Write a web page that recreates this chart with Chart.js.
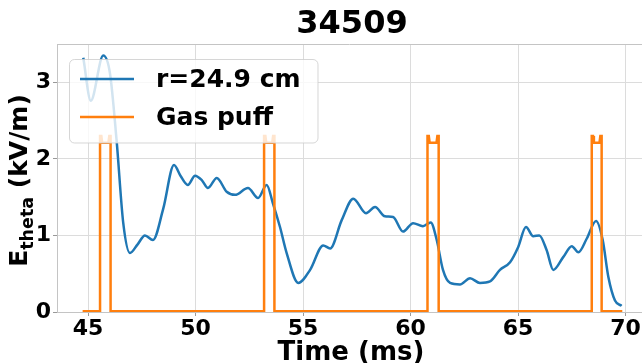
<!DOCTYPE html>
<html>
<head>
<meta charset="utf-8">
<script src="https://cdn.jsdelivr.net/npm/chart.js@4.4.1/dist/chart.umd.min.js"></script>
<style>
  html, body { margin: 0; padding: 0; background: #fff; }
  #wrap { width: 642px; height: 363px; }
</style>
</head>
<body>
<div id="wrap"><canvas id="chart" width="642" height="363"></canvas></div>
<script>
// --- Data ---
const TITLE = '34509';
const X_LABEL = 'Time (ms)';
const SERIES_LABELS = ['r=24.9 cm', 'Gas puff'];

// E_theta at r=24.9 cm
const timeMs = [44.78, 45.13, 45.71, 46.02, 46.33, 46.64, 46.95, 47.3, 47.65, 48.02, 48.5, 49.0, 49.3, 49.64,
    49.98, 50.3, 50.58, 50.99, 51.45, 51.84, 52.44, 52.91, 53.31, 53.6, 53.93, 54.24, 54.78, 55.33, 55.94,
    56.26, 56.8, 57.34, 57.93, 58.35, 58.81, 59.19, 59.65, 60.12, 60.58, 60.94, 61.22, 61.51, 61.84, 62.3,
    62.77, 63.23, 63.7, 64.16, 64.63, 65.01, 65.37, 65.71, 65.99, 66.33, 66.64, 67.11, 67.5, 67.81, 68.2,
    68.63, 68.94, 69.2, 69.51, 69.82];
const eTheta = [3.32, 2.76, 3.35, 3.12, 2.24, 1.16, 0.77, 0.88, 1.0, 0.94, 1.35, 1.92, 1.78, 1.66,
    1.78, 1.72, 1.62, 1.75, 1.57, 1.53, 1.62, 1.49, 1.66, 1.42, 1.11, 0.77, 0.38, 0.55, 0.87,
    0.83, 1.2, 1.48, 1.29, 1.37, 1.25, 1.24, 1.05, 1.16, 1.12, 1.17, 0.94, 0.55, 0.38, 0.36,
    0.44, 0.38, 0.40, 0.55, 0.65, 0.85, 1.11, 0.99, 1.0, 0.81, 0.55, 0.72, 0.86, 0.78, 0.96,
    1.19, 0.94, 0.46, 0.15, 0.08];

// gas puff trace (four pulses)
const puffTime = [44.75,
    45.56, 45.56, 45.62, 45.66, 45.95, 45.99, 46.05, 46.05,
    53.19, 53.19, 53.25, 53.29, 53.57, 53.61, 53.67, 53.67,
    60.79, 60.79, 60.85, 60.89, 61.21, 61.25, 61.31, 61.31,
    68.43, 68.43, 68.49, 68.53, 68.79, 68.83, 68.89, 68.89,
    69.85];
const puffValue = [0.01,
    0.01, 2.30, 2.30, 2.21, 2.21, 2.30, 2.30, 0.01,
    0.01, 2.30, 2.30, 2.21, 2.21, 2.30, 2.30, 0.01,
    0.01, 2.30, 2.30, 2.21, 2.21, 2.30, 2.30, 0.01,
    0.01, 2.30, 2.30, 2.21, 2.21, 2.30, 2.30, 0.01,
    0.01];

const xTicks = [45, 50, 55, 60, 65, 70];
const yTicks = [0, 1, 2, 3];

// --- Style ---
const C_BLUE = '#1f77b4';
const C_ORANGE = '#ff7f0e';
const FONT = "'DejaVu Sans', sans-serif";
const GRID = '#dcdcdc';
const SPINE = '#c4c4c4';

function pts(xs, ys) { return xs.map((x, i) => ({ x, y: ys[i] })); }

// decor draws title, axis labels (with the theta subscript), top spine and the legend box
const decor = {
    id: 'decor',
    beforeDatasetsDraw(chart) {
        const { ctx, chartArea: a } = chart;
        ctx.save();
        ctx.strokeStyle = SPINE;
        ctx.lineWidth = 1;
        ctx.beginPath();
        ctx.moveTo(a.left, a.top + 0.5);
        ctx.lineTo(a.right, a.top + 0.5);
        ctx.stroke();
        ctx.restore();
    },
    afterDraw(chart) {
        const { ctx } = chart;
        ctx.save();
        ctx.fillStyle = '#000';
        ctx.textAlign = 'center';
        ctx.textBaseline = 'alphabetic';
        ctx.font = `bold 32px ${FONT}`;
        ctx.fillText(TITLE, 352, 33);
        ctx.font = `bold 26px ${FONT}`;
        ctx.fillText(X_LABEL, 351, 360);

        // y label: E_theta (kV/m), rotated
        ctx.translate(27, 180.5);
        ctx.rotate(-Math.PI / 2);
        ctx.textAlign = 'left';
        const big = `bold 25px ${FONT}`, small = `bold 17.5px ${FONT}`;
        ctx.font = big; const wE = ctx.measureText('E').width;
        ctx.font = small; const wSub = ctx.measureText('theta').width;
        ctx.font = big; const wRest = ctx.measureText(' (kV/m)').width;
        let x0 = -(wE + wSub + wRest) / 2;
        ctx.font = big; ctx.fillText('E', x0, 0); x0 += wE;
        ctx.font = small; ctx.fillText('theta', x0, 6); x0 += wSub;
        ctx.font = big; ctx.fillText(' (kV/m)', x0, 0);
        ctx.restore();

        // legend
        ctx.save();
        const lx = 69.5, ly = 59.5, lw = 248.5, lh = 83.5, r = 5;
        ctx.beginPath();
        ctx.roundRect(lx, ly, lw, lh, r);
        ctx.fillStyle = 'rgba(255,255,255,0.8)';
        ctx.fill();
        ctx.strokeStyle = 'rgba(204,204,204,0.8)';
        ctx.lineWidth = 1;
        ctx.stroke();
        const rows = [{ y: 79, c: C_BLUE }, { y: 117, c: C_ORANGE }];
        ctx.font = `bold 25px ${FONT}`;
        ctx.fillStyle = '#000';
        ctx.textBaseline = 'middle';
        rows.forEach((row, i) => {
            ctx.strokeStyle = row.c;
            ctx.lineWidth = 2.5;
            ctx.beginPath();
            ctx.moveTo(80, row.y);
            ctx.lineTo(134, row.y);
            ctx.stroke();
            ctx.fillText(SERIES_LABELS[i], 156, row.y + 1);
        });
        ctx.restore();
    },
};

new Chart(document.getElementById('chart'), {
    type: 'line',
    data: {
        datasets: [{
            label: SERIES_LABELS[0],
            data: pts(timeMs, eTheta),
            borderColor: C_BLUE,
            borderWidth: 2.5,
            pointRadius: 0,
            cubicInterpolationMode: 'monotone',
            order: 1,
        }, {
            label: SERIES_LABELS[1],
            data: pts(puffTime, puffValue),
            borderColor: C_ORANGE,
            borderWidth: 2.5,
            pointRadius: 0,
            tension: 0,
            order: 0,
        }],
    },
    options: {
        responsive: false,
        animation: false,
        events: [],
        layout: { padding: { top: 44, right: 0, left: 0, bottom: 0 }, autoPadding: false },
        plugins: { legend: { display: false }, tooltip: { enabled: false } },
        scales: {
            x: {
                type: 'linear',
                min: 43.558,
                max: 70.767,
                afterFit: (s) => { s.height = 51; },
                afterBuildTicks: (s) => { s.ticks = xTicks.map((v) => ({ value: v })); },
                ticks: { color: '#000', font: { family: FONT, size: 22, weight: 'bold' }, padding: 0 },
                grid: { color: GRID, tickColor: '#999', tickLength: 4 },
                border: { color: SPINE },
            },
            y: {
                min: 0,
                max: 3.5,
                afterFit: (s) => { s.width = 57; },
                afterBuildTicks: (s) => { s.ticks = yTicks.map((v) => ({ value: v })); },
                ticks: { color: '#000', font: { family: FONT, size: 22, weight: 'bold' }, padding: 2 },
                grid: { color: GRID, tickColor: '#999', tickLength: 4 },
                border: { color: SPINE },
            },
        },
    },
    plugins: [decor],
});
</script>
</body>
</html>
